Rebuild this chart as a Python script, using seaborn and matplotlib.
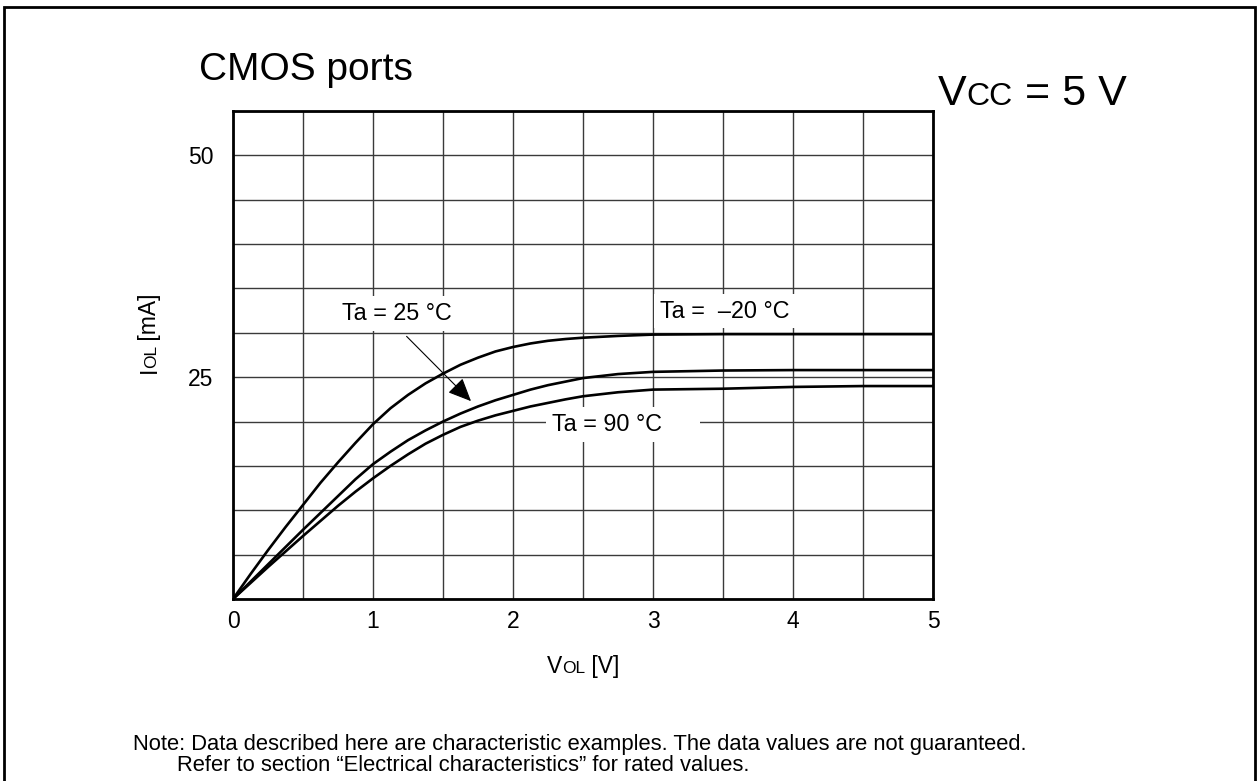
import numpy as np
import pandas as pd
import matplotlib
matplotlib.use("Agg")
import matplotlib.pyplot as plt
from matplotlib.patches import Rectangle
from matplotlib.transforms import IdentityTransform
from matplotlib.ticker import MultipleLocator, FixedLocator
import seaborn as sns

# Output low-level voltage (V) and sink current (mA) per ambient temperature
vol = [0, 0.125, 0.25, 0.375, 0.5, 0.625, 0.75, 0.875, 1.0, 1.125, 1.25, 1.375, 1.5,
       1.625, 1.75, 1.875, 2.0, 2.125, 2.25, 2.375, 2.5, 2.75, 3.0, 3.5, 4.0, 4.5, 5.0]
iol_m20 = [0, 2.8, 5.5, 8.1, 10.6, 13.1, 15.4, 17.6, 19.7, 21.5, 23.0, 24.3, 25.4,
           26.4, 27.2, 27.9, 28.4, 28.8, 29.1, 29.3, 29.45, 29.65, 29.8, 29.85, 29.85, 29.85, 29.85]
iol_25 = [0, 1.95, 3.9, 5.85, 7.8, 9.7, 11.6, 13.5, 15.2, 16.6, 17.9, 19.0, 20.0,
          20.9, 21.7, 22.4, 23.0, 23.6, 24.1, 24.5, 24.9, 25.35, 25.6, 25.75, 25.8, 25.8, 25.8]
iol_90 = [0, 1.8, 3.6, 5.35, 7.1, 8.8, 10.5, 12.1, 13.6, 15.0, 16.3, 17.5, 18.5,
          19.4, 20.1, 20.7, 21.2, 21.7, 22.1, 22.5, 22.85, 23.3, 23.6, 23.7, 23.9, 24.0, 24.0]
series_names = ["Ta = -20", "Ta = 25", "Ta = 90"]
x_ticks = [0, 1, 2, 3, 4, 5]
y_ticks = [25, 50]

sns.set_theme(style="white")
plt.rcParams["font.family"] = ["Liberation Sans", "DejaVu Sans"]
plt.rcParams["text.color"] = "black"
plt.rcParams["xtick.color"] = "black"
plt.rcParams["ytick.color"] = "black"

W, H = 1257, 781
fig = plt.figure(figsize=(W / 100, H / 100), dpi=100)
ax = fig.add_axes([233 / W, 1 - 599 / H, 700 / W, 488 / H])

df = pd.concat([
    pd.DataFrame({"VOL": vol, "IOL": vals, "Ta": name})
    for name, vals in zip(series_names, [iol_m20, iol_25, iol_90])
])
sns.lineplot(data=df, x="VOL", y="IOL", hue="Ta", palette=["black"] * 3,
             linewidth=1.9, legend=False, ax=ax, sort=False)

ax.set_xlim(0, 5)
ax.set_ylim(0, 55)
ax.xaxis.set_major_locator(FixedLocator(x_ticks))
ax.xaxis.set_minor_locator(MultipleLocator(0.5))
ax.yaxis.set_major_locator(FixedLocator(y_ticks))
ax.yaxis.set_minor_locator(MultipleLocator(5))
ax.grid(True, which="both", color="#3a3a3a", linewidth=1.0)
ax.set_axisbelow(True)
ax.tick_params(which="both", length=0, labelsize=16.5, colors="black")
ax.tick_params(axis="x", pad=8)
ax.tick_params(axis="y", pad=14)
ax.set_xlabel("")
ax.set_ylabel("")
for sp in ax.spines.values():
    sp.set_visible(True)
    sp.set_color("black")
    sp.set_linewidth(2.0)

box = dict(facecolor="white", edgecolor="none", boxstyle="square,pad=0.25")
ax.text(1.171, 32.2, "Ta = 25 °C", fontsize=16.8, ha="center", va="center", bbox=box, zorder=4)
ax.text(3.05, 32.45, "Ta =  \u201320 °C", fontsize=16.8, ha="left", va="center", bbox=box, zorder=4)
ax.text(2.279, 19.7, "Ta = 90 °C     ", fontsize=16.8, ha="left", va="center", bbox=box, zorder=4)
ax.annotate("", xy=(1.70, 22.3), xytext=(1.24, 29.6),
            arrowprops=dict(arrowstyle="-|>,head_length=0.9,head_width=0.4", color="black",
                            lw=0.8, shrinkA=0, shrinkB=0, mutation_scale=16), zorder=5)

ident = IdentityTransform()
renderer = fig.canvas.get_renderer()


def mixed_text(pieces, x, y, center=False, vertical=False, kern=0.0):
    """Draw text runs of different sizes one after another along a baseline."""
    widths = []
    for s, size in pieces:
        t = fig.text(0, 0, s, fontsize=size, transform=ident)
        widths.append(t.get_window_extent(renderer=renderer).width - kern)
        t.remove()
    total = sum(widths)
    pos = (y if vertical else x) - (total / 2 if center else 0)
    for (s, size), w in zip(pieces, widths):
        if vertical:
            fig.text(x, pos, s, fontsize=size, rotation=90, rotation_mode="anchor",
                     ha="left", va="baseline", transform=ident)
        else:
            fig.text(pos, y, s, fontsize=size, ha="left", va="baseline", transform=ident)
        pos += w


fig.text(199, H - 80, "CMOS ports", fontsize=28, ha="left", va="baseline", transform=ident)
mixed_text([("V", 31), ("CC", 23), (" = 5 V", 31)], 938, H - 105)
mixed_text([("V", 16.5), ("OL", 12.5), (" [V]", 16.5)], 583, H - 673, center=True)
mixed_text([("I", 16.5), ("OL", 12.5), (" [mA]", 16.5)], 156, H - 334, center=True,
           vertical=True, kern=1.5)

fig.text(133, H - 750, "Note: Data described here are characteristic examples. The data values are not guaranteed.",
         fontsize=15.8, ha="left", va="baseline", transform=ident)
fig.text(177, H - 771, "Refer to section \u201cElectrical characteristics\u201d for rated values.",
         fontsize=15.8, ha="left", va="baseline", transform=ident)

fig.patches.append(Rectangle((4, -10), 1251, H - 7 + 10, transform=ident,
                             fill=False, edgecolor="black", linewidth=2.0))

fig.savefig("out.png", dpi=100)
